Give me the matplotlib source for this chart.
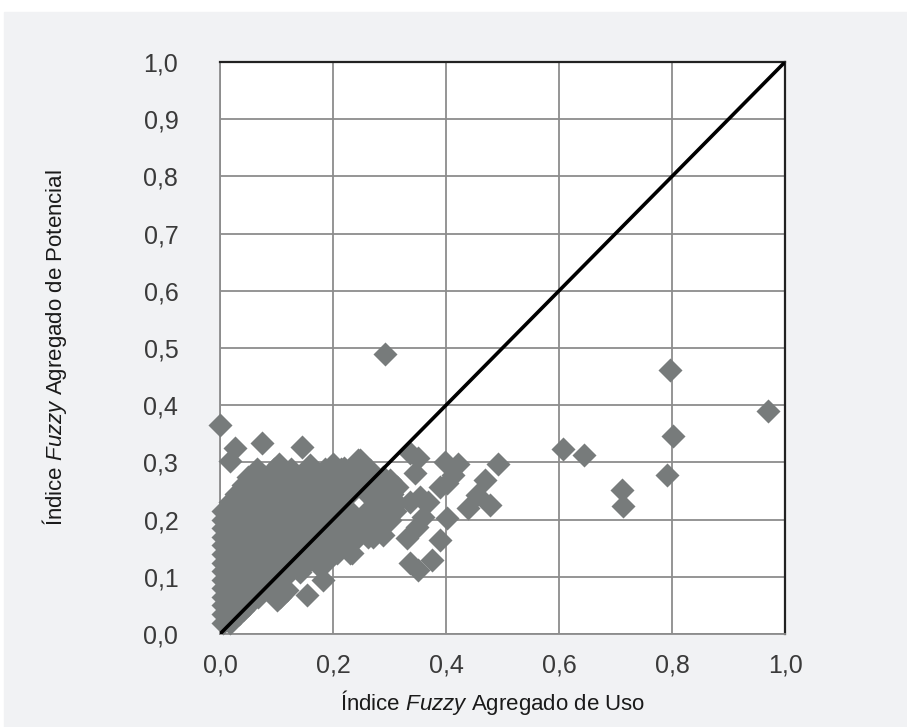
import matplotlib
matplotlib.use("Agg")
import matplotlib.pyplot as plt
from matplotlib.patches import Rectangle

# Nuvem densa (municípios com índices baixos), linha a linha
blob_x = [
    0.005, 0.018,
    0.005, 0.02, 0.033,
    0.005, 0.035, 0.05,
    0.005, 0.02, 0.05, 0.068,
    0.005, 0.035, 0.065, 0.085,
    0.005, 0.02, 0.05, 0.08, 0.105,
    0.005, 0.035, 0.065, 0.095, 0.125,
    0.005, 0.02, 0.05, 0.08, 0.11, 0.14,
    0.005, 0.035, 0.065, 0.095, 0.125, 0.155, 0.185,
    0.005, 0.02, 0.05, 0.08, 0.11, 0.14, 0.17, 0.2, 0.225,
    0.005, 0.035, 0.065, 0.095, 0.125, 0.155, 0.185, 0.215, 0.245, 0.262,
    0.005, 0.02, 0.05, 0.08, 0.11, 0.14, 0.17, 0.2, 0.23, 0.26, 0.285,
    0.005, 0.035, 0.065, 0.095, 0.125, 0.155, 0.185, 0.215, 0.245, 0.275, 0.3,
    0.005, 0.02, 0.05, 0.08, 0.11, 0.14, 0.17, 0.2, 0.23, 0.26, 0.29, 0.31,
    0.018, 0.035, 0.065, 0.095, 0.125, 0.155, 0.185, 0.215, 0.275, 0.305,
    0.028, 0.05, 0.08, 0.11, 0.14, 0.17, 0.2, 0.23, 0.26, 0.29, 0.305,
    0.04, 0.065, 0.095, 0.125, 0.155, 0.185, 0.215, 0.245, 0.275, 0.295,
    0.05, 0.08, 0.11, 0.14, 0.17, 0.2, 0.23, 0.265,
    0.065, 0.095, 0.125, 0.155, 0.185, 0.215, 0.24,
]
blob_y = (
    [0.020] * 2 + [0.035] * 3 + [0.050] * 3 + [0.065] * 4 + [0.080] * 4
    + [0.095] * 5 + [0.110] * 5 + [0.125] * 6 + [0.140] * 7 + [0.155] * 9
    + [0.170] * 10 + [0.185] * 11 + [0.200] * 11 + [0.215] * 12
    + [0.230] * 10 + [0.245] * 11 + [0.260] * 10 + [0.275] * 8 + [0.288] * 7
)

# Pontos espalhados ao redor da nuvem
spread_x = [
    0.027, 0.018, 0.074, 0.145, 0.105, 0.16, 0.2, 0.22, 0.248,
    0.244, 0.336, 0.350, 0.345, 0.398, 0.421, 0.412, 0.492, 0.469,
    0.455, 0.478, 0.439, 0.401, 0.389, 0.401, 0.354, 0.336, 0.368,
    0.36, 0.348, 0.331, 0.389, 0.336, 0.350, 0.375, 0.313, 0.301,
    0.289, 0.278, 0.234, 0.207, 0.253, 0.271, 0.313, 0.301, 0.265,
    0.289, 0.230,
    0.212, 0.2, 0.177, 0.142, 0.182, 0.154, 0.101, 0.119, 0.071,
    0.041, 0.106, 0.23, 0.16, 0.13, 0.19,
]
spread_y = [
    0.325, 0.302, 0.334, 0.327, 0.298, 0.296, 0.297, 0.29, 0.304,
    0.304, 0.316, 0.308, 0.281, 0.300, 0.298, 0.278, 0.298, 0.269,
    0.243, 0.226, 0.220, 0.264, 0.257, 0.203, 0.240, 0.231, 0.231,
    0.205, 0.187, 0.168, 0.164, 0.124, 0.112, 0.129, 0.229, 0.234,
    0.173, 0.199, 0.141, 0.141, 0.182, 0.170, 0.257, 0.269, 0.287,
    0.275, 0.269,
    0.159, 0.141, 0.117, 0.108, 0.094, 0.068, 0.059, 0.077, 0.075,
    0.042, 0.065, 0.141, 0.13, 0.12, 0.128,
]

# Valores isolados
outlier_x = [0.0, 0.292, 0.796, 0.970, 0.802, 0.791, 0.712, 0.714, 0.644, 0.607]
outlier_y = [0.366, 0.490, 0.462, 0.390, 0.346, 0.278, 0.252, 0.224, 0.313, 0.323]

ticks = [0.0, 0.1, 0.2, 0.3, 0.4, 0.5, 0.6, 0.7, 0.8, 0.9, 1.0]
xticks = [0.0, 0.2, 0.4, 0.6, 0.8, 1.0]

plt.rcParams["font.family"] = ["Liberation Sans", "DejaVu Sans"]
plt.rcParams["mathtext.fontset"] = "custom"
plt.rcParams["mathtext.rm"] = "Liberation Sans"
plt.rcParams["mathtext.it"] = "Liberation Sans:italic"

fig = plt.figure(figsize=(9.07, 7.27), dpi=100, facecolor="white")
fig.patches.append(Rectangle((4 / 907, 0), 1, (727 - 12) / 727,
                             transform=fig.transFigure, color="#f1f2f4", zorder=-1))

ax = fig.add_axes([220 / 907, 93 / 727, 565 / 907, 572 / 727])
ax.set_facecolor("white")

marker_color = "#777b7b"
for xs, ys in [(blob_x, blob_y), (spread_x, spread_y), (outlier_x, outlier_y)]:
    ax.scatter(xs, ys, marker="D", s=150, color=marker_color, linewidths=0,
               zorder=3, clip_on=False)

ax.plot([0, 1], [0, 1], color="black", linewidth=2.6, zorder=4, solid_capstyle="butt")

ax.set_xlim(0, 1)
ax.set_ylim(0, 1)
ax.set_xticks(xticks)
ax.set_yticks(ticks)
ax.set_xticklabels([f"{t:.1f}".replace(".", ",") for t in xticks])
ax.set_yticklabels([f"{t:.1f}".replace(".", ",") for t in ticks])
ax.tick_params(length=0, labelsize=18, colors="#3a3a3a")
ax.tick_params(axis="y", pad=30)
ax.tick_params(axis="x", pad=14)

ax.grid(True, color="#8c8c8c", linewidth=1.3, zorder=1)
ax.set_axisbelow(True)
for side in ["left", "bottom"]:
    ax.spines[side].set_color("#8c8c8c")
    ax.spines[side].set_linewidth(1.3)
for side in ["top", "right"]:
    ax.spines[side].set_color("#222222")
    ax.spines[side].set_linewidth(1.6)

fig.text(0.5435, 17 / 727, r"Índice $\it{Fuzzy}$ Agregado de Uso", ha="center", va="baseline",
         fontsize=16, color="#1a1a1a")
fig.text(55 / 907, (727 - 348) / 727, r"Índice $\it{Fuzzy}$ Agregado de Potencial", ha="center",
         va="center", rotation=90, fontsize=16, color="#1a1a1a")

fig.savefig("out.png", dpi=100, facecolor=fig.get_facecolor())
